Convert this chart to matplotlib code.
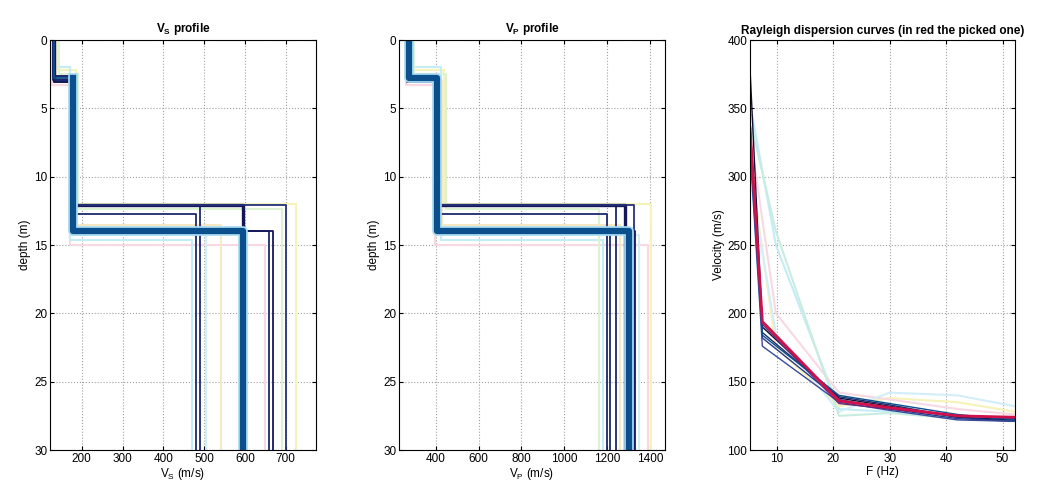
import matplotlib
matplotlib.use("Agg")
import matplotlib.pyplot as plt

plt.rcParams['font.family'] = ['Liberation Sans', 'DejaVu Sans']
plt.rcParams['font.size'] = 8.5
plt.rcParams['mathtext.default'] = 'regular'

MAX_DEPTH = 30

# best models (dark) : interface depths and velocities of the 3 layers
dark_z1 = [2.6, 2.9, 3.1, 2.6, 2.8, 2.9, 3.1]
dark_z2 = [12.1, 12.1, 12.1, 12.7, 14.0, 14.0, 14.0]
dark_vs1 = [130, 132, 131, 129, 133, 130, 132]
dark_vs2 = [178, 180, 179, 177, 178, 176, 180]
dark_vs3 = [490, 595, 700, 480, 595, 660, 668]
dark_vp1 = [268, 272, 270, 265, 275, 270, 268]
dark_vp2 = [405, 410, 408, 400, 405, 402, 410]
dark_vp3 = [1240, 1282, 1324, 1200, 1300, 1215, 1330]
dark_colors = ['#1c2a6e', '#14185a', '#25307a', '#1c2a6e', '#0b4f8c', '#1c2a6e', '#14185a']
dark_widths = [1.3, 2.4, 1.3, 1.3, 4.5, 1.3, 1.3]

# other tested models (light)
light_z1 = [2.2, 3.3, 2.0, 2.5, 3.0, 2.7]
light_z2 = [12.0, 15.0, 14.6, 12.4, 13.5, 14.3]
light_vs1 = [140, 126, 124, 145, 136, 128]
light_vs2 = [186, 172, 170, 190, 182, 175]
light_vs3 = [725, 650, 470, 690, 540, 505]
light_vp1 = [285, 262, 280, 300, 290, 276]
light_vp2 = [440, 395, 425, 450, 430, 418]
light_vp3 = [1405, 1390, 1180, 1160, 1260, 1350]
light_colors = ['#f6f2b8', '#f8d8e2', '#c4ecf6', '#dcf2d0', '#f7e8c4', '#d2eef8']

# dispersion curves
freq = [5.2, 7.4, 21.0, 30.0, 42.0, 52.2]
picked_vel = [336, 194, 136, 131, 125, 124]
dark_curves = [
    [380, 190, 138, 132, 124, 122],
    [330, 186, 139, 133, 124, 121],
    [325, 182, 137, 130, 123, 121],
    [320, 176, 135, 129, 122, 121],
    [340, 192, 134, 130, 125, 123],
    [335, 184, 140, 134, 126, 122],
]
dark_curve_colors = ['#111133', '#1c2a6e', '#2a3a8a', '#3a4a9a', '#6a2a7a', '#0b4f8c']
light_freq = [5.6, 9.8, 21.0, 30.0, 42.0, 52.2]
light_curves = [
    [345, 250, 130, 128, 124, 122],
    [300, 175, 132, 138, 135, 128],
    [320, 200, 142, 137, 130, 126],
    [290, 185, 128, 142, 140, 132],
    [335, 260, 125, 127, 123, 121],
]
light_curve_colors = ['#c4ecf6', '#f6f2b8', '#f8d8e2', '#d2eef8', '#c8ece0']


def step(v1, v2, v3, z1, z2):
    return [v1, v1, v2, v2, v3, v3], [0, z1, z1, z2, z2, MAX_DEPTH]


def style(ax):
    ax.grid(True, linestyle=':', color='#a0a0a0', linewidth=0.8)
    ax.tick_params(direction='in', top=True, right=True, length=3, pad=2)
    for s in ax.spines.values():
        s.set_linewidth(0.8)


fig = plt.figure(figsize=(10.37, 4.93), dpi=100)
ax1 = fig.add_axes([0.0482, 0.0872, 0.2565, 0.8316])
ax2 = fig.add_axes([0.3848, 0.0872, 0.2565, 0.8316])
ax3 = fig.add_axes([0.7232, 0.0872, 0.2555, 0.8316])

panels = [
    (ax1, dark_vs1, dark_vs2, dark_vs3, light_vs1, light_vs2, light_vs3, 2),
    (ax2, dark_vp1, dark_vp2, dark_vp3, light_vp1, light_vp2, light_vp3, 0),
]
for ax, v1s, v2s, v3s, lv1, lv2, lv3, thick_from in panels:
    for i in range(len(light_z1)):
        x, y = step(lv1[i], lv2[i], lv3[i], light_z1[i], light_z2[i])
        ax.plot(x, y, color=light_colors[i], lw=1.5)
    thin = [k for k in range(len(dark_z1)) if dark_widths[k] < 3]
    thick = [k for k in range(len(dark_z1)) if dark_widths[k] >= 3]
    for i in thin:
        x, y = step(v1s[i], v2s[i], v3s[i], dark_z1[i], dark_z2[i])
        ax.plot(x, y, color=dark_colors[i], lw=dark_widths[i])
    for i in thick:
        x, y = step(v1s[i], v2s[i], v3s[i], dark_z1[i], dark_z2[i])
        ax.plot(x[:thick_from + 1], y[:thick_from + 1], color=dark_colors[i], lw=1.3)
        ax.plot(x[thick_from:], y[thick_from:], color='#a8dcf2', lw=dark_widths[i] + 2.5)
        ax.plot(x[thick_from:], y[thick_from:], color=dark_colors[i], lw=dark_widths[i])
    ax.set_ylim(MAX_DEPTH, 0)
    ax.set_yticks(range(0, 31, 5))
    ax.set_ylabel('depth (m)', labelpad=2)
    style(ax)

ax1.set_xlim(122, 774)
ax1.set_xticks(range(200, 701, 100))
ax1.set_xlabel('V$_S$ (m/s)', labelpad=1)
ax1.set_title('V$_S$ profile', fontweight='bold', fontsize=8.5, pad=6)

ax2.set_xlim(229, 1470)
ax2.set_xticks(range(400, 1401, 200))
ax2.set_xlabel('V$_P$ (m/s)', labelpad=1)
ax2.set_title('V$_P$ profile', fontweight='bold', fontsize=8.5, pad=6)

for vals, c in zip(light_curves, light_curve_colors):
    ax3.plot(light_freq, vals, color=c, lw=1.5)
for vals, c in zip(dark_curves, dark_curve_colors):
    ax3.plot(freq, vals, color=c, lw=1.0)
ax3.plot(freq, picked_vel, color='#d0104a', lw=2.0)
ax3.set_xlim(5.2, 52.2)
ax3.set_ylim(100, 400)
ax3.set_xticks(range(10, 51, 10))
ax3.set_yticks(range(100, 401, 50))
ax3.set_xlabel('F (Hz)', labelpad=1)
ax3.set_ylabel('Velocity (m/s)', labelpad=2)
ax3.set_title('Rayleigh dispersion curves (in red the picked one)',
              fontweight='bold', fontsize=8.5, pad=4)
style(ax3)

fig.savefig('out.png', dpi=100)
